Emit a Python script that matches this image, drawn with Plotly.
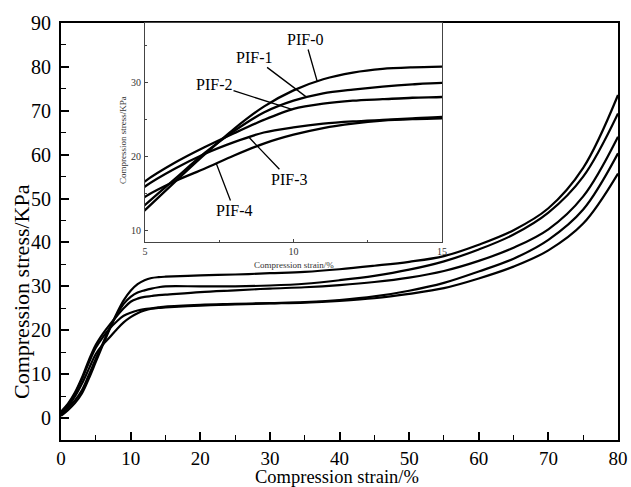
import numpy as np
import plotly.graph_objects as go

# ---- data ----
strain = [0, 1, 2, 3, 4, 5, 6, 7, 8, 9, 10, 11, 12, 13, 14, 15,
          20, 25, 30, 35, 40, 45, 50, 55, 60, 65, 70, 75, 80]

pif0 = [0.5, 1.8, 3.4, 5.6, 9.0, 12.8, 16.6, 20.3, 23.8, 26.8, 29.0, 30.5, 31.4, 31.9, 32.1, 32.2,
        32.5, 32.7, 33.0, 33.3, 33.9, 34.7, 35.6, 36.9, 39.5, 42.8, 47.8, 57.0, 73.6]
pif1 = [1.0, 2.3, 4.0, 6.3, 9.8, 13.5, 17.0, 20.5, 23.5, 26.0, 27.6, 28.6, 29.1, 29.5, 29.8, 30.0,
        30.0, 30.0, 30.2, 30.6, 31.4, 32.4, 33.8, 35.7, 38.4, 41.8, 46.8, 55.0, 69.4]
pif2 = [1.5, 3.3, 5.8, 9.2, 13.2, 16.7, 19.2, 21.3, 23.2, 25.0, 26.5, 27.2, 27.6, 27.8, 28.0, 28.1,
        28.7, 29.1, 29.5, 29.8, 30.3, 31.0, 32.0, 33.5, 35.8, 38.8, 43.0, 50.5, 64.1]
pif3 = [1.2, 3.0, 5.5, 8.8, 12.6, 16.0, 18.4, 20.4, 22.0, 23.3, 24.0, 24.5, 24.8, 25.0, 25.2, 25.4,
        25.8, 26.0, 26.2, 26.4, 26.9, 27.7, 29.0, 30.8, 33.4, 36.3, 40.6, 47.5, 60.3]
pif4 = [0.8, 2.6, 4.9, 7.8, 11.2, 14.6, 16.7, 18.4, 20.2, 21.8, 23.0, 23.9, 24.5, 24.9, 25.1, 25.2,
        25.6, 25.9, 26.1, 26.3, 26.7, 27.3, 28.3, 29.6, 31.8, 34.5, 38.2, 44.3, 55.7]

series_names = ["PIF-0", "PIF-1", "PIF-2", "PIF-3", "PIF-4"]
series_vals = [pif0, pif1, pif2, pif3, pif4]

# strain at which each inset label points to its curve
label_strain = [10.8, 10.45, 9.95, 8.5, 7.4]
label_offsets = [(-12, -42), (-53, -40), (-78, -25), (40, 42), (18, 47)]

main_xticks = [0, 10, 20, 30, 40, 50, 60, 70, 80]
main_yticks = [0, 10, 20, 30, 40, 50, 60, 70, 80, 90]
inset_xticks = [5, 10, 15]
inset_yticks = [10, 20, 30]

SERIF = "Liberation Serif"

fig = go.Figure()
for name, vals in zip(series_names, series_vals):
    fig.add_trace(go.Scatter(x=strain, y=vals, mode="lines", name=name,
                             line=dict(color="black", width=2.2, shape="spline", smoothing=1.0),
                             xaxis="x", yaxis="y", showlegend=False, hoverinfo="skip"))
for name, vals in zip(series_names, series_vals):
    fig.add_trace(go.Scatter(x=strain, y=vals, mode="lines", name=name,
                             line=dict(color="black", width=2.3, shape="spline", smoothing=0.8),
                             xaxis="x2", yaxis="y2", showlegend=False, hoverinfo="skip"))

W, H = 631, 487
L, R, T, B = 61, 13, 23, 47
pw, ph = W - L - R, H - T - B

def px_x(px):
    return (px - L) / pw

def px_y(py):
    return (H - B - py) / ph

axis_common = dict(showline=True, linecolor="black", linewidth=2, mirror=True,
                   ticks="inside", tickcolor="black", tickwidth=1.6, ticklen=8,
                   showgrid=False, zeroline=False)

fig.update_layout(
    width=W, height=H,
    margin=dict(l=L, r=R, t=T, b=B, autoexpand=False),
    paper_bgcolor="white", plot_bgcolor="white",
    xaxis=dict(range=[0, 80], tickvals=main_xticks, domain=[0, 1],
               minor=dict(dtick=5, tick0=0, ticks="inside", ticklen=5, tickcolor="black", tickwidth=1.4),
               ticklabelstandoff=0, tickfont=dict(family=SERIF, size=19, color="black"),
               **axis_common),
    yaxis=dict(range=[-5, 90], tickvals=main_yticks, domain=[0, 1],
               minor=dict(dtick=5, tick0=0, ticks="inside", ticklen=5, tickcolor="black", tickwidth=1.4),
               ticklabelstandoff=4, tickfont=dict(family=SERIF, size=20, color="black"),
               **axis_common),
    xaxis2=dict(range=[5, 15], tickvals=inset_xticks, domain=[px_x(145), px_x(442)], anchor="y2",
                showline=True, linecolor="#444", linewidth=1, mirror=True,
                ticks="inside", ticklen=3, tickcolor="#444", tickwidth=1,
                minor=dict(dtick=2.5, tick0=5, ticks="inside", ticklen=2, tickcolor="#444"),
                showgrid=False, zeroline=False,
                tickfont=dict(family=SERIF, size=10, color="#333")),
    yaxis2=dict(range=[8.5, 38.1], tickvals=inset_yticks, domain=[px_y(242), 1], anchor="x2",
                showline=True, linecolor="#444", linewidth=1, mirror=True,
                ticks="inside", ticklen=3, tickcolor="#444", tickwidth=1,
                minor=dict(dtick=5, tick0=0, ticks="inside", ticklen=2, tickcolor="#444"),
                showgrid=False, zeroline=False, ticklabelstandoff=1,
                tickfont=dict(family=SERIF, size=10, color="#333")),
)

annotations = [
    dict(text="Compression stress/KPa", xref="paper", yref="paper",
         x=px_x(21), y=px_y(292), textangle=-90, showarrow=False,
         font=dict(family=SERIF, size=22, color="black"), xanchor="center", yanchor="middle"),
    dict(text="Compression strain/%", xref="paper", yref="paper",
         x=px_x(337), y=px_y(477), showarrow=False,
         font=dict(family=SERIF, size=18.5, color="black"), xanchor="center", yanchor="middle"),
    dict(text="Compression stress/KPa", xref="paper", yref="paper",
         x=px_x(123), y=px_y(140), textangle=-90, showarrow=False,
         font=dict(family=SERIF, size=9, color="#333"), xanchor="center", yanchor="middle"),
    dict(text="Compression strain/%", xref="paper", yref="paper",
         x=px_x(294), y=px_y(265), showarrow=False,
         font=dict(family=SERIF, size=9, color="#333"), xanchor="center", yanchor="middle"),
]
for name, vals, xs, (ax, ay) in zip(series_names, series_vals, label_strain, label_offsets):
    yv = float(np.interp(xs, strain, vals))
    annotations.append(dict(text=name, x=xs, y=yv, xref="x2", yref="y2",
                            showarrow=True, arrowhead=0, arrowwidth=1.3, arrowcolor="black",
                            ax=ax, ay=ay, standoff=0,
                            font=dict(family=SERIF, size=16, color="black")))
fig.update_layout(annotations=annotations)

fig.write_html("out.html", config={"displayModeBar": False},
               post_script="document.body.style.margin='0';document.body.style.overflow='hidden';")
